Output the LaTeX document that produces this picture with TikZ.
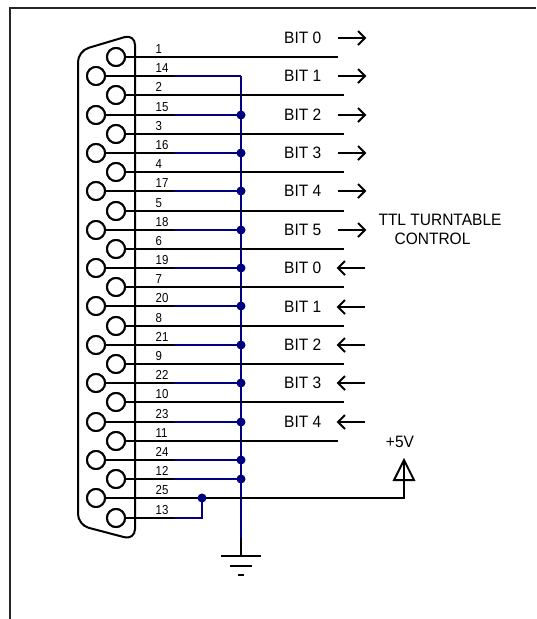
\documentclass[tikz,border=0pt]{standalone}
\usepackage{fontspec}
\usetikzlibrary{calc}
\setmainfont{Liberation Sans}
\definecolor{busblue}{RGB}{0,0,128}
\tikzset{
  wire/.style={line width=2pt,black},
  buswire/.style={line width=2pt,busblue},
  pinhole/.style={circle,draw=black,line width=2pt,fill=white,minimum size=18pt,inner sep=0pt},
  pinnum/.style={inner sep=0pt,anchor=west,font=\fontsize{13}{14}\selectfont,xscale=0.88,transform shape},
  bitlabel/.style={inner sep=0pt,font=\fontsize{16.5}{18}\selectfont,anchor=west,xscale=0.94,transform shape},
  ctrllabel/.style={inner sep=0pt,font=\fontsize{16.5}{18}\selectfont,xscale=0.94,transform shape},
  dirarrow/.style={line width=2pt,black},
  joint/.style={circle,fill=busblue,minimum size=9pt,inner sep=0pt}
}
\begin{document}
\begin{tikzpicture}[x=1pt,y=-1pt]
\useasboundingbox (0,0) rectangle (536,619);
% frame
\draw[line width=2pt,black!85] (10,619) -- (10,8) -- (536,8);
% bus
\coordinate (bustop) at (241,76);
\coordinate (busend) at (241,537.5);
\coordinate (gnd) at (241,556);
\draw[buswire] (bustop) -- (busend);
\draw[wire] (busend) -- (gnd);
\draw[wire] (221,556) -- (261,556);
\draw[wire] (230,566) -- (252,566);
\draw[wire] (238,575) -- (244,575);
% pins and wires
\foreach \n [count=\i from 0] in {1,14,2,15,3,16,4,17,5,18,6,19,7,20,8,21,9,22,10,23,11,24,12,25,13} {
  \pgfmathsetmacro{\py}{round(57+19.19*\i)}
  \pgfmathsetmacro{\px}{mod(\i,2)==0 ? 116 : 96}
  \node[pinhole] (p\n) at (\px,\py) {};
  \coordinate (m\n) at (174,\py);
  \coordinate (j\n) at (241,\py);
  \coordinate (e\n) at (344,\py);
  \coordinate (s\n) at (338,\py);
  \coordinate (k\n) at (202,\py);
  \node[pinnum] (t\n) at (155.5,\py-8) {\n};
}
% connector shell
\draw[line width=2pt,rounded corners=11pt] (78,400) -- (78,51) -- (135,34) -- (135,540) -- (78,525) -- cycle;
% signal wires (odd)
\foreach \n in {2,3,4,5,6,7,8,9,10} \draw[wire] (p\n) -- (e\n);
\foreach \n in {1,11} \draw[wire] (p\n) -- (s\n);
% grounded wires
\foreach \n in {14,15,16,17,18,19,20,21,22,23,24,12} {
  \draw[wire] (p\n) -- (m\n);
  \draw[buswire] (m\n) -- (j\n);
}
\foreach \n in {15,16,17,18,19,20,21,22,23,24,12} \node[joint] (d\n) at (j\n) {};
% pins 25, 13
\coordinate (vcc) at (404,498);
\coordinate (apex) at (404,460);
\coordinate (basel) at (394,480);
\coordinate (baser) at (414,480);
\draw[wire] (p25) -- (vcc) -- (apex);
\draw[wire,line join=miter] (apex) -- (baser) -- (basel) -- cycle;
\draw[wire] (p13) -- (m13);
\draw[buswire] (m13) -- (k13) -- (k25);
\node[joint] (d25) at (k25) {};
% redraw holes over wire ends
\foreach \n in {1,...,25} \node[pinhole] at (p\n) {};
% bit labels + arrows
\foreach \lab/\y [count=\c] in {BIT 0/38,BIT 1/76,BIT 2/115,BIT 3/153,BIT 4/191,BIT 5/230} {
  \node[bitlabel] (bo\c) at (284,\y) {\lab};
  \coordinate (ao\c) at (338,\y);
  \coordinate (bo\c t) at (365,\y);
  \draw[dirarrow] (ao\c) -- (bo\c t);
  \draw[dirarrow,line join=miter] ($(bo\c t)+(-7,-7)$) -- (bo\c t) -- ($(bo\c t)+(-7,7)$);
}
\foreach \lab/\y [count=\c] in {BIT 0/268,BIT 1/307,BIT 2/345,BIT 3/383,BIT 4/422} {
  \node[bitlabel] (bi\c) at (284,\y) {\lab};
  \coordinate (ai\c) at (365,\y);
  \coordinate (bi\c t) at (338,\y);
  \draw[dirarrow] (ai\c) -- (bi\c t);
  \draw[dirarrow,line join=miter] ($(bi\c t)+(7,-7)$) -- (bi\c t) -- ($(bi\c t)+(7,7)$);
}
\node[ctrllabel] (ttl) at (440,220) {TTL TURNTABLE};
\node[ctrllabel] (ctl) at (432.5,239) {CONTROL};
\node[ctrllabel] (v5) at (400,441.5) {+5V};
\end{tikzpicture}
\end{document}
